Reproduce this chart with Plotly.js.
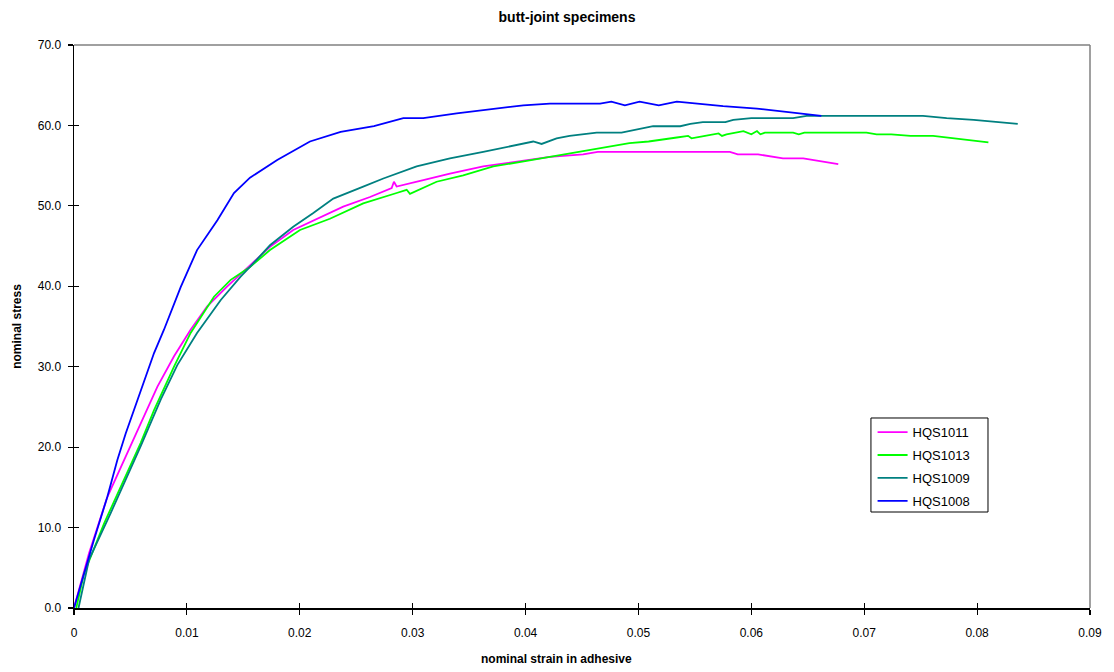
<!DOCTYPE html>
<html>
<head>
<meta charset="utf-8">
<script src="https://cdn.plot.ly/plotly-3.0.1.min.js"></script>
<style>html,body{margin:0;padding:0;background:#fff;}#chart{width:1114px;height:672px;}</style>
</head>
<body>
<div id="chart"></div>
<script>
// HQS1011 (magenta)
const strain1011 = [0, 0.00133, 0.00295, 0.00443, 0.0059, 0.00738, 0.00886, 0.01033, 0.0118, 0.01358, 0.01559, 0.01736, 0.01942, 0.0215, 0.02385, 0.02622, 0.02814, 0.02834, 0.02858, 0.03094, 0.0333, 0.03625, 0.0392, 0.04216, 0.0451, 0.0464, 0.051, 0.0581, 0.0588, 0.0606, 0.0628, 0.0646, 0.0677];
const stress1011 = [0, 6.8, 13.8, 18.4, 23.0, 27.5, 31.3, 34.6, 37.5, 40.0, 42.6, 44.9, 47.0, 48.4, 49.9, 51.1, 52.2, 53.0, 52.4, 53.2, 54.0, 54.9, 55.5, 56.1, 56.4, 56.7, 56.7, 56.7, 56.4, 56.4, 55.9, 55.9, 55.2];

// HQS1013 (green)
const strain1013 = [0.0002, 0.00089, 0.00266, 0.00443, 0.0059, 0.00709, 0.00886, 0.01033, 0.0124, 0.01388, 0.01559, 0.01736, 0.02002, 0.02267, 0.02562, 0.02858, 0.02947, 0.02976, 0.03212, 0.03448, 0.03714, 0.0401, 0.04305, 0.0466, 0.0478, 0.0492, 0.0509, 0.0521, 0.0534, 0.0544, 0.0547, 0.0559, 0.0571, 0.0574, 0.0578, 0.0593, 0.06, 0.0605, 0.0608, 0.0612, 0.0637, 0.0642, 0.0647, 0.0702, 0.0711, 0.0724, 0.0741, 0.0761, 0.081];
const stress1013 = [0, 4.3, 10.5, 15.9, 20.5, 24.6, 30.0, 34.2, 38.7, 40.8, 42.4, 44.5, 47.0, 48.4, 50.3, 51.6, 52.0, 51.5, 53.0, 53.8, 54.9, 55.6, 56.3, 57.2, 57.4, 57.8, 58.0, 58.2, 58.5, 58.7, 58.4, 58.7, 59.0, 58.7, 58.9, 59.3, 58.9, 59.3, 58.9, 59.1, 59.1, 58.9, 59.1, 59.1, 58.9, 58.9, 58.7, 58.7, 57.9];

// HQS1009 (teal)
const strain1009 = [0.0004, 0.00133, 0.00325, 0.00472, 0.0059, 0.00768, 0.00915, 0.0109, 0.013, 0.01476, 0.01559, 0.01736, 0.01942, 0.0212, 0.02297, 0.02562, 0.0274, 0.03035, 0.0333, 0.03625, 0.0398, 0.04068, 0.04142, 0.04275, 0.0439, 0.0463, 0.0485, 0.0495, 0.0513, 0.0537, 0.0546, 0.0557, 0.0577, 0.0584, 0.06, 0.0637, 0.0649, 0.0752, 0.0773, 0.0797, 0.0836];
const stress1009 = [0, 6.0, 11.8, 16.3, 20.1, 25.9, 30.2, 34.2, 38.3, 41.2, 42.4, 45.1, 47.4, 49.1, 50.9, 52.4, 53.4, 54.9, 55.9, 56.7, 57.8, 58.0, 57.7, 58.4, 58.7, 59.1, 59.1, 59.4, 59.9, 59.9, 60.2, 60.4, 60.4, 60.7, 60.9, 60.9, 61.2, 61.2, 60.9, 60.7, 60.2];

// HQS1008 (blue)
const strain1008 = [0, 0.00177, 0.00295, 0.00384, 0.00458, 0.0059, 0.00709, 0.00797, 0.00945, 0.0109, 0.0127, 0.01417, 0.01559, 0.018, 0.0209, 0.02362, 0.02657, 0.02917, 0.03094, 0.0339, 0.0398, 0.04216, 0.0466, 0.0476, 0.0488, 0.0501, 0.0518, 0.0534, 0.0575, 0.0605, 0.0662];
const stress1008 = [0, 8.5, 13.8, 18.4, 21.7, 27.1, 31.7, 34.6, 39.9, 44.5, 48.2, 51.6, 53.5, 55.7, 58.0, 59.2, 59.9, 60.9, 60.9, 61.5, 62.5, 62.7, 62.7, 62.95, 62.5, 62.95, 62.5, 62.95, 62.4, 62.1, 61.2];

const seriesNames = ['HQS1011', 'HQS1013', 'HQS1009', 'HQS1008'];
const seriesColors = ['#FF00FF', '#00FF00', '#008080', '#0000FF'];
const xs = [strain1011, strain1013, strain1009, strain1008];
const ys = [stress1011, stress1013, stress1009, stress1008];

const xTickVals = [0, 0.01, 0.02, 0.03, 0.04, 0.05, 0.06, 0.07, 0.08, 0.09];
const xTickText = ['0', '0.01', '0.02', '0.03', '0.04', '0.05', '0.06', '0.07', '0.08', '0.09'];
const yTickVals = [0, 10, 20, 30, 40, 50, 60, 70];
const yTickText = ['0.0', '10.0', '20.0', '30.0', '40.0', '50.0', '60.0', '70.0'];

const traces = seriesNames.map((n, i) => ({
  type: 'scatter', mode: 'lines', name: n, legendgroup: n,
  x: xs[i], y: ys[i],
  line: {color: seriesColors[i], width: 1.8}
}));
// invisible trace on overlay axes to show inward tick marks
traces.push({type: 'scatter', mode: 'lines', x: [0, 0.09], y: [0, 70], xaxis: 'x2', yaxis: 'y2',
  line: {color: 'rgba(0,0,0,0)'}, showlegend: false, hoverinfo: 'skip'});

const font = {family: 'Arial, "Liberation Sans", sans-serif', color: '#000'};

const layout = {
  width: 1114, height: 672,
  margin: {l: 74, r: 24, t: 45, b: 64},
  paper_bgcolor: '#fff', plot_bgcolor: '#fff',
  font: Object.assign({size: 12}, font),
  title: {text: '<b>butt-joint specimens</b>', x: 0.509, xref: 'container', y: 0.975, yanchor: 'middle',
    font: Object.assign({size: 14}, font)},
  xaxis: {range: [0, 0.09], tickvals: xTickVals, ticktext: xTickText, showgrid: false, zeroline: false,
    showline: true, linecolor: '#000', linewidth: 1.5, ticks: 'outside', ticklen: 5, tickcolor: '#000', tickwidth: 1.2,
    ticklabelstandoff: 8,
    tickfont: Object.assign({size: 12}, font)},
  yaxis: {range: [0, 70], tickvals: yTickVals, ticktext: yTickText, showgrid: false, zeroline: false,
    showline: true, linecolor: '#000', linewidth: 1.5, ticks: 'outside', ticklen: 5, tickcolor: '#000', tickwidth: 1.2,
    ticklabelstandoff: 4,
    tickfont: Object.assign({size: 12}, font),
    title: {text: '<b>nominal stress</b>', standoff: 13, font: Object.assign({size: 12}, font)}},
  xaxis2: {range: [0, 0.09], tickvals: xTickVals, overlaying: 'x', showticklabels: false, ticks: 'inside', ticklen: 5,
    tickcolor: '#000', tickwidth: 1.2, showgrid: false, zeroline: false, showline: false, anchor: 'y2'},
  yaxis2: {range: [0, 70], tickvals: yTickVals, overlaying: 'y', showticklabels: false, ticks: 'inside', ticklen: 5,
    tickcolor: '#000', tickwidth: 1.2, showgrid: false, zeroline: false, showline: false, anchor: 'x2'},
  showlegend: true,
  legend: {x: 0.786, y: 0.339, xanchor: 'left', yanchor: 'top', bgcolor: 'rgba(0,0,0,0)', borderwidth: 0,
    font: Object.assign({size: 13}, font), tracegroupgap: 3, itemwidth: 30},
  shapes: [
    {type: 'line', xref: 'paper', yref: 'paper', x0: 0, x1: 1, y0: 1, y1: 1, line: {color: '#808080', width: 1.5}},
    {type: 'line', xref: 'paper', yref: 'paper', x0: 1, x1: 1, y0: 0, y1: 1, line: {color: '#808080', width: 1.5}},
    {type: 'rect', xref: 'paper', yref: 'paper', x0: 0.7844, x1: 0.8996, y0: 0.1705, y1: 0.3375, layer: 'above',
      fillcolor: '#fff', line: {color: '#000', width: 1}}
  ],
  annotations: [
    {text: '<b>nominal strain in adhesive</b>', xref: 'paper', yref: 'paper', x: 0.475, y: -0.09, yanchor: 'middle',
      showarrow: false, font: Object.assign({size: 12}, font)}
  ]
};

Plotly.newPlot('chart', traces, layout, {displayModeBar: false, staticPlot: true});
</script>
</body>
</html>
